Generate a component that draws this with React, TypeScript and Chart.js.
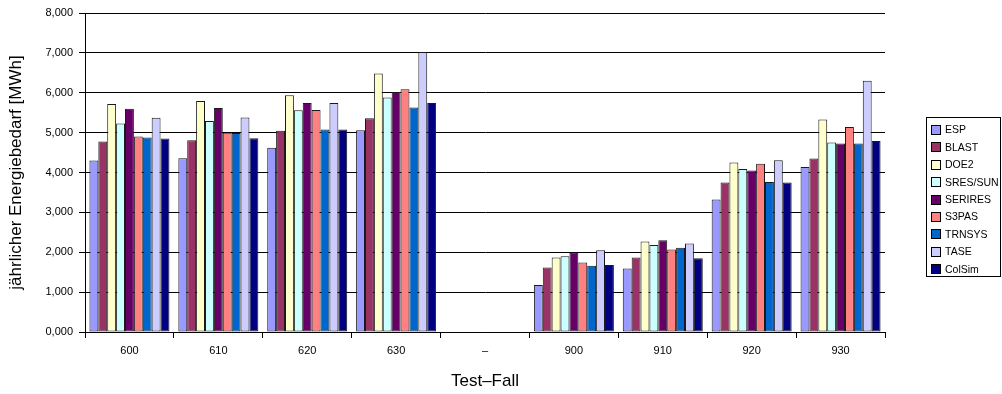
import React, { useEffect, useRef } from "react";
import { Chart, registerables } from "chart.js";

Chart.register(...registerables);

const categories = ["600", "610", "620", "630", "–", "900", "910", "920", "930"];
const seriesNames = ["ESP", "BLAST", "DOE2", "SRES/SUN", "SERIRES", "S3PAS", "TRNSYS", "TASE", "ColSim"];
const seriesColors = ["#9999FF", "#993366", "#FFFFCC", "#CCFFFF", "#660066", "#FF8080", "#0066CC", "#CCCCFF", "#000080"];

const esp = [4.30, 4.36, 4.62, 5.06, null, 1.18, 1.59, 3.32, 4.14];
const blast = [4.78, 4.81, 5.05, 5.36, null, 1.62, 1.87, 3.75, 4.35];
const doe2 = [5.72, 5.79, 5.94, 6.48, null, 1.87, 2.27, 4.25, 5.33];
const sresSun = [5.23, 5.29, 5.56, 5.88, null, 1.90, 2.18, 4.09, 4.75];
const serires = [5.60, 5.62, 5.74, 6.02, null, 1.99, 2.30, 4.05, 4.73];
const s3pas = [4.90, 5.00, 5.57, 6.09, null, 1.74, 2.07, 4.22, 5.14];
const trnsys = [4.88, 4.99, 5.08, 5.63, null, 1.66, 2.11, 3.76, 4.73];
const tase = [5.37, 5.38, 5.74, 7.02, null, 2.05, 2.22, 4.31, 6.30];
const colsim = [4.85, 4.86, 5.08, 5.74, null, 1.68, 1.85, 3.75, 4.79];

const seriesValues = [esp, blast, doe2, sresSun, serires, s3pas, trnsys, tase, colsim];

const yMin = 0;
const yMax = 8;
const yStep = 1;
const yTitle = "jährlicher Energiebedarf [MWh]";
const xTitle = "Test–Fall";

const FONT = "'Liberation Sans', Arial, sans-serif";

const boxLegendPlugin = {
  id: "boxLegend",
  afterDraw(chart: any) {
    const ctx = chart.ctx;
    const left = 926;
    const top = 117;
    const w = 75;
    const h = 159;
    const rowH = 17.4;
    ctx.save();
    ctx.strokeStyle = "#000";
    ctx.lineWidth = 1;
    ctx.strokeRect(left + 0.5, top + 0.5, w - 1, h);
    ctx.font = `10.5px ${FONT}`;
    ctx.textBaseline = "middle";
    ctx.textAlign = "left";
    chart.data.datasets.forEach((ds: any, i: number) => {
      const cy = top + 13 + i * rowH;
      ctx.fillStyle = ds.backgroundColor;
      ctx.fillRect(left + 5, Math.round(cy - 5), 10, 10);
      ctx.strokeStyle = "#000";
      ctx.strokeRect(left + 5.5, Math.round(cy - 5) + 0.5, 9, 9);
      ctx.fillStyle = "#000";
      ctx.fillText(ds.label, left + 19, cy + 0.5);
    });
    ctx.restore();
  },
};

export default function App() {
  const canvasRef = useRef<HTMLCanvasElement | null>(null);

  useEffect(() => {
    document.body.style.margin = "0";
    const canvas = canvasRef.current;
    if (!canvas) return;
    const chart = new Chart(canvas, {
      type: "bar",
      data: {
        labels: categories,
        datasets: seriesNames.map((name, i) => ({
          label: name,
          data: seriesValues[i],
          backgroundColor: seriesColors[i],
          borderColor: "#1a1a1a",
          borderWidth: 1,
          borderSkipped: false,
          categoryPercentage: 0.9,
          barPercentage: 1,
        })),
      },
      options: {
        responsive: false,
        animation: false,
        layout: { padding: { left: 0, right: 117, top: 13, bottom: 0 } },
        plugins: {
          legend: { display: false },
          tooltip: { enabled: false },
        },
        scales: {
          x: {
            grid: {
              display: true,
              drawOnChartArea: false,
              drawTicks: true,
              tickLength: 6,
              color: "#000",
              offset: true,
            },
            border: { color: "#000", width: 1 },
            ticks: {
              color: "#000",
              font: { family: FONT, size: 11 },
              padding: 6,
              maxRotation: 0,
              autoSkip: false,
            },
            title: {
              display: true,
              text: xTitle,
              color: "#000",
              font: { family: FONT, size: 17 },
              padding: { top: 0, bottom: 2 },
            },
            afterFit(scale: any) {
              scale.height = 62;
            },
          },
          y: {
            min: yMin,
            max: yMax,
            grid: {
              color: "#000",
              tickLength: 6,
              drawTicks: true,
            },
            border: { color: "#000", width: 1 },
            ticks: {
              stepSize: yStep,
              color: "#000",
              font: { family: FONT, size: 11 },
              padding: 6,
              callback: (v: any) => Number(v).toFixed(3).replace(".", ","),
            },
            title: {
              display: true,
              text: yTitle,
              color: "#000",
              font: { family: FONT, size: 17 },
              padding: { top: 6, bottom: 0 },
            },
            afterFit(scale: any) {
              scale.width = 85;
            },
          },
        },
      },
      plugins: [boxLegendPlugin],
    });
    return () => chart.destroy();
  }, []);

  return (
    <div style={{ width: 1002, height: 394, background: "#fff" }}>
      <canvas ref={canvasRef} width={1002} height={394} style={{ display: "block" }} />
    </div>
  );
}
